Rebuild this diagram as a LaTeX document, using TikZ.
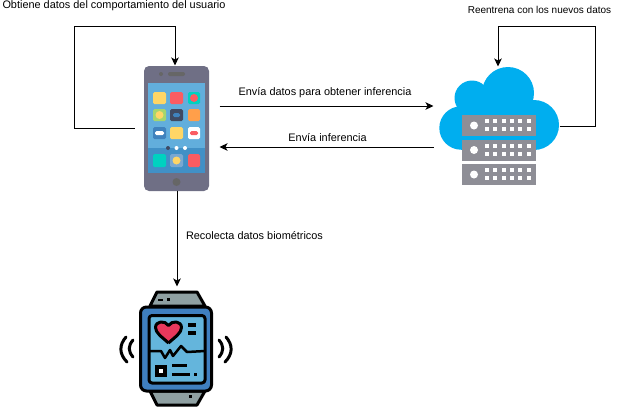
\documentclass[tikz,border=0pt]{standalone}
\usepackage{fontspec}
\usetikzlibrary{arrows.meta}
\setmainfont{Liberation Sans}
\definecolor{phonebody}{HTML}{6F6F85}
\definecolor{phonescreen}{HTML}{62AEDC}
\definecolor{phonedock}{HTML}{4190C6}
\definecolor{appyellow}{HTML}{FFD666}
\definecolor{appred}{HTML}{FA5C62}
\definecolor{appteal}{HTML}{00D2C0}
\definecolor{appgreen}{HTML}{A5D66E}
\definecolor{appdark}{HTML}{3F4A63}
\definecolor{apporange}{HTML}{FF9F4A}
\definecolor{appblue}{HTML}{3F82BD}
\definecolor{cloudblue}{HTML}{00AEEF}
\definecolor{servergray}{HTML}{8E8E96}
\definecolor{strapgray}{HTML}{8FA0A2}
\definecolor{watchblue}{HTML}{3F7FBF}
\definecolor{watchscreen}{HTML}{64B5DC}
\definecolor{heartred}{HTML}{E8385C}
\begin{document}
\begin{tikzpicture}[x=1pt,y=-1pt,line width=1pt]
    \tikzstyle{icono}=[inner sep=0pt,minimum width=84pt,minimum height=124pt]
    \tikzstyle{flecha}=[-{Stealth[length=8pt,width=7.5pt,inset=2pt]},draw=black,line width=1pt]
    \tikzstyle{etiqueta}=[inner sep=0pt,font=\fontsize{10.9}{12}\selectfont]
    \tikzstyle{app}=[rounded corners=1.5pt]
    \tikzstyle{contorno}=[draw=black,line width=3pt,line join=round]
    \tikzstyle{onda}=[draw=black,line width=3pt,line cap=round]
    \useasboundingbox (0,0) rectangle (626,413);

    \node[icono] (phone) at (177,128) {};
    \node[icono,minimum width=128pt,minimum height=118pt] (cloud) at (498,126) {};
    \node[icono,minimum width=114pt,minimum height=120pt] (watch) at (177,347) {};

    % telefono
    \fill[phonebody,rounded corners=5pt] (144,66) rectangle (209,191);
    \fill[phonescreen] (148,83) rectangle (205,148);
    \fill[phonedock] (148,148) rectangle (205,173);
    \fill[black!60] (161,74) circle (2);
    \fill[black!60,rounded corners=2pt] (168,72) rectangle (185,76);
    \fill[black!60] (176.5,182) circle (4);
    \fill[app,appyellow] (153,92) rectangle (166,104);
    \fill[app,appred] (170,92) rectangle (183,104);
    \fill[app,appteal] (188,92) rectangle (200,104);
    \fill[appred] (194,98) circle (4);
    \fill[app,appgreen] (153,109) rectangle (166,121);
    \fill[appyellow] (159.5,115) circle (4);
    \fill[app,appdark] (170,109) rectangle (183,121);
    \fill[appblue,rounded corners=1.5pt] (173,113) rectangle (180,117);
    \fill[app,apporange] (188,109) rectangle (200,121);
    \fill[app,appblue] (153,127) rectangle (166,139);
    \fill[white,rounded corners=1.5pt] (155,131) rectangle (164,135);
    \fill[app,appyellow] (170,127) rectangle (183,139);
    \fill[app,white] (188,127) rectangle (200,139);
    \fill[appred,rounded corners=1.5pt] (190,131) rectangle (198,135);
    \fill[appdark] (168,148) circle (2);
    \fill[white] (176.5,148) circle (2);
    \fill[white] (185,148) circle (2);
    \fill[app,appteal] (153,154) rectangle (166,167);
    \fill[app,appblue!70!white] (170,154) rectangle (183,167);
    \fill[appyellow] (176.5,160.5) circle (4);
    \fill[app,appred] (188,154) rectangle (200,167);

    % nube
    \fill[cloudblue] (508,93) circle (26);
    \fill[cloudblue] (472,98) circle (17.5);
    \fill[cloudblue] (461,128) circle (21.7);
    \fill[cloudblue] (534,125) circle (25);
    \fill[cloudblue] (461,100) rectangle (534,149.5);
    \foreach \y in {115,139.5,164}{
        \fill[servergray] (462,\y) rectangle (536,\y+21);
        \fill[white] (474,\y+10.5) circle (4);
        \foreach \x in {487,495.3,503.6,511.9,520.2,528.5}{
            \fill[white] (\x-2,\y+4) rectangle (\x+2,\y+8);
            \fill[white] (\x-2,\y+12) rectangle (\x+2,\y+16);
        }
    }

    % reloj
    \filldraw[fill=strapgray,contorno] (150,306) -- (157,292) -- (197,292) -- (205,306) -- cycle;
    \filldraw[fill=strapgray,contorno] (150,391) -- (157,405) -- (197,405) -- (205,391) -- cycle;
    \fill (158,298.5) rectangle (163,300.5);
    \fill (167,298) rectangle (170,301);
    \fill (189,395) rectangle (192,398);
    \filldraw[fill=watchblue,contorno,rounded corners=6pt] (140.5,307) rectangle (211.5,391);
    \filldraw[fill=watchscreen,contorno,rounded corners=3pt] (149,315.5) rectangle (205,383);
    \filldraw[fill=heartred,contorno] (168.5,343) .. controls (162,337) and (155.5,333) .. (155.5,327.5)
        .. controls (155.5,321) and (165,320) .. (168.5,325.5)
        .. controls (172,320) and (181.5,321) .. (181.5,327.5)
        .. controls (181.5,333) and (175,337) .. (168.5,343);
    \fill (188,323) rectangle (196,327);
    \fill (188,331) rectangle (196,335);
    \draw[black,line width=2.5pt,line join=round] (149,351) -- (161,351) -- (165,358) -- (170,350) -- (173,356) -- (181,346) -- (187,352) -- (205,351);
    \fill (155,365) rectangle (167,377);
    \fill[white] (159,369) rectangle (163,373);
    \fill (172,364) rectangle (187,367);
    \fill (172,373) rectangle (190,376);
    \fill (194,373) rectangle (197,376);
    \draw[onda] (126,337) .. controls (119,345) and (119,354) .. (127,362);
    \draw[onda] (133,340) .. controls (128,346) and (128,351) .. (133,357);
    \draw[onda] (219,340) .. controls (224,346) and (224,351) .. (219,357);
    \draw[onda] (226,337) .. controls (233,345) and (233,354) .. (225,362);

    \coordinate (vueltaTel) at (74,26);
    \coordinate (vueltaNube) at (595,26);
    \draw[flecha] (phone.west) -| (vueltaTel) -| ([xshift=-2pt]phone.north);
    \draw[flecha] ([xshift=-3pt]cloud.east) -| (vueltaNube) -| (cloud.north);
    \draw[flecha] ([yshift=22pt]phone.east) -- ([yshift=20pt]cloud.west);
    \draw[flecha] ([yshift=-21pt]cloud.west) -- ([yshift=-19pt]phone.east);
    \draw[flecha] (phone.south) -- (watch.north);

    \node[etiqueta] (obtiene) at (114,5.5) {Obtiene datos del comportamiento del usuario};
    \node[etiqueta,font=\fontsize{10}{12}\selectfont] (reentrena) at (539.5,9.5) {Reentrena con los nuevos datos};
    \node[etiqueta] (envia) at (325,92.5) {Envía datos para obtener inferencia};
    \node[etiqueta] (inferencia) at (327.5,137.5) {Envía inferencia};
    \node[etiqueta] (recolecta) at (254.5,235.5) {Recolecta datos biométricos};
\end{tikzpicture}
\end{document}
